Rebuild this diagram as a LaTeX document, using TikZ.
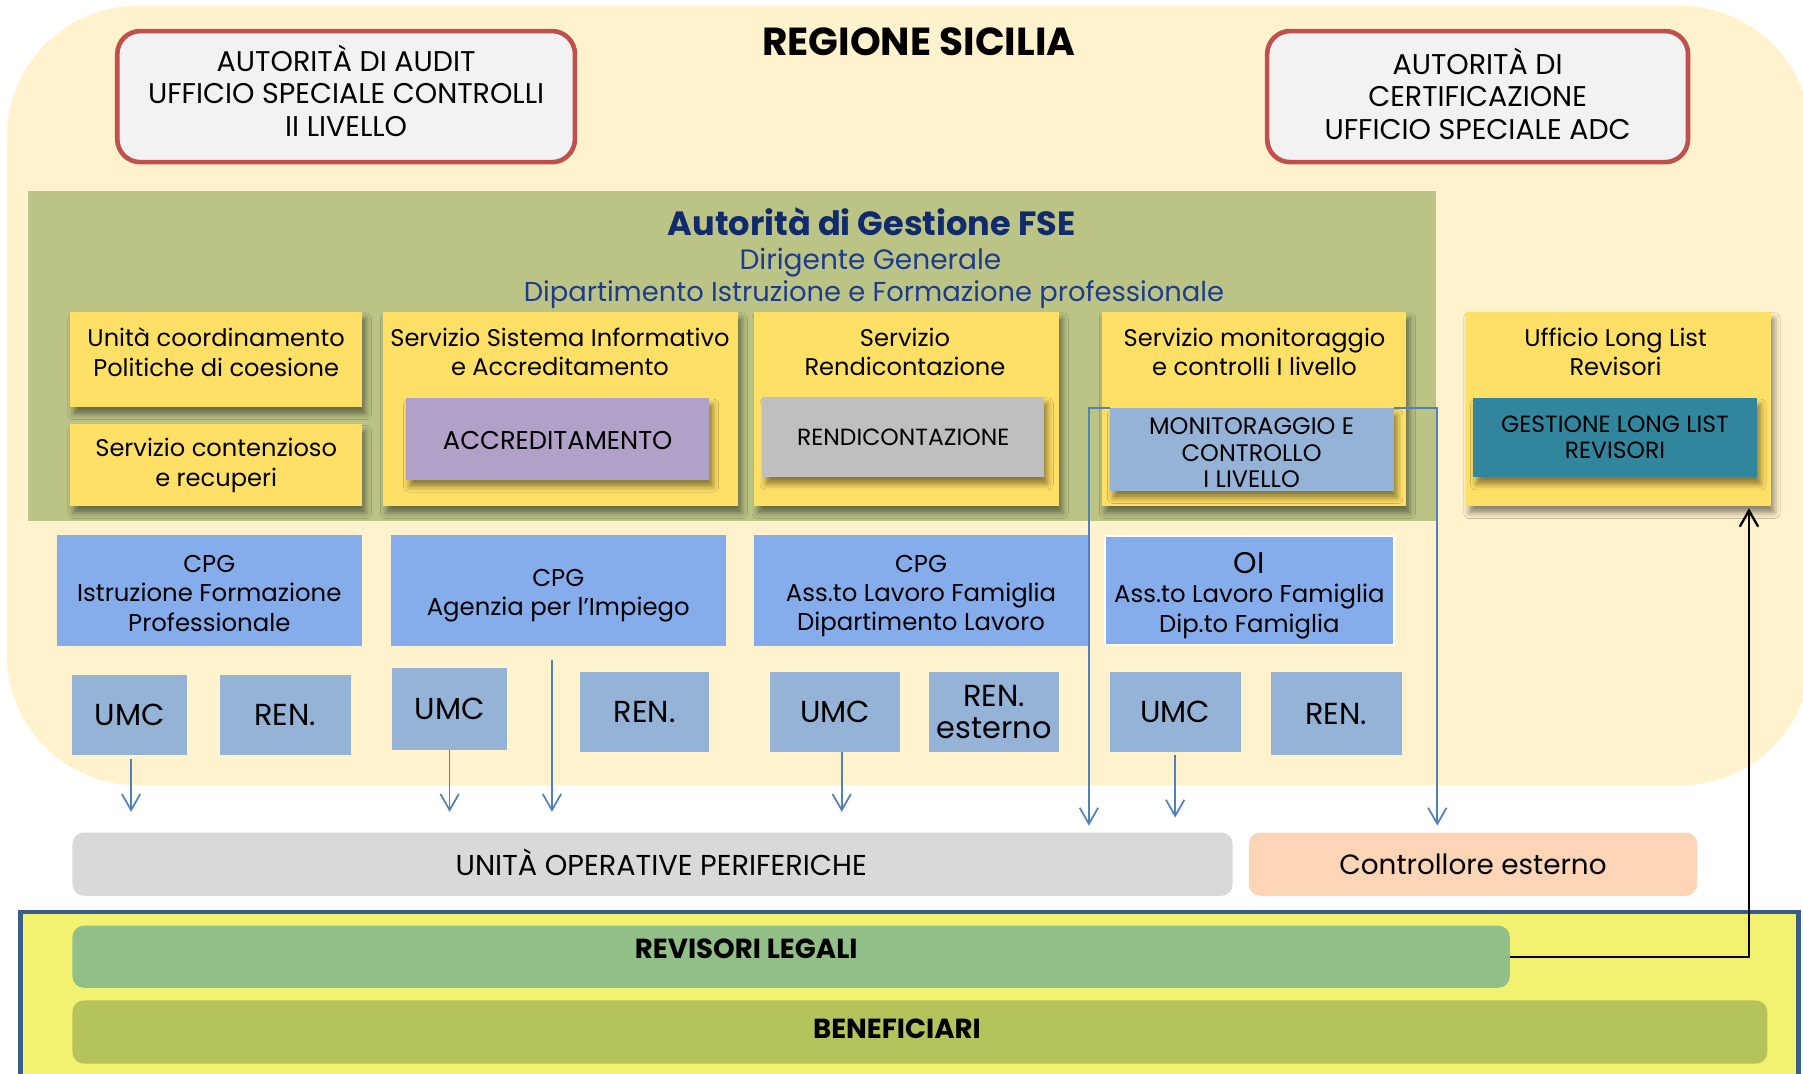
\documentclass[tikz,border=0pt]{standalone}
\usepackage{fontspec}
\setmainfont{Poppins}
\usetikzlibrary{shadows,shadows.blur,arrows.meta}
\definecolor{cream}{HTML}{FFF2CC}
\definecolor{olive}{HTML}{BBC485}
\definecolor{yel}{HTML}{FFE066}
\definecolor{purp}{HTML}{B1A0C7}
\definecolor{gry}{HTML}{BFBFBF}
\definecolor{steel}{HTML}{95B3D7}
\definecolor{tealb}{HTML}{31859C}
\definecolor{cpgb}{HTML}{85ACEB}
\definecolor{navy}{HTML}{102A6E}
\definecolor{subblue}{HTML}{1F3C8C}
\definecolor{byel}{HTML}{F2F270}
\definecolor{bborder}{HTML}{385D8A}
\definecolor{revg}{HTML}{92BE87}
\definecolor{benf}{HTML}{B5C45A}
\definecolor{uopg}{HTML}{D9D9D9}
\definecolor{peach}{HTML}{FBD5B5}
\definecolor{arrb}{HTML}{4F81BD}
\definecolor{redb}{HTML}{C0504D}
\definecolor{boxg}{HTML}{F2F2F2}
\begin{document}
\begin{tikzpicture}[x=0.5pt,y=-0.5pt,
  wh/.style 2 args={minimum width=#1*0.5pt, minimum height=#2*0.5pt},
  fbox/.style={inner sep=0pt, outer sep=0pt, align=center, text=black},
  shad/.style={blur shadow={shadow xshift=1.5pt, shadow yshift=-3pt, shadow blur radius=2.5pt, shadow opacity=45}},
  authbox/.style={fbox, fill=boxg, draw=redb, line width=2pt, rounded corners=10pt},
  authtext/.style={inner sep=0pt, align=center, font=\fontsize{12.4}{14.25}\selectfont},
  ybox/.style={fbox, fill=yel, shad},
  ytext/.style={inner sep=0pt, align=center, font=\fontsize{10.5}{13}\selectfont},
  inbox/.style={fbox, shad},
  cpg/.style={fbox, fill=cpgb},
  cpgtext/.style={inner sep=0pt, align=center, font=\fontsize{10.6}{12.75}\selectfont},
  small/.style={fbox, fill=steel, font=\fontsize{13.2}{14}\selectfont},
  bar/.style={fbox, rounded corners=5pt},
  btext/.style={inner sep=0pt, font=\bfseries\fontsize{12}{14}\selectfont},
  arr/.style={draw=arrb, line width=0.75pt, -{Straight Barb[length=7pt,width=8pt,line width=0.75pt]}},
  karr/.style={draw=black, line width=1pt, -{Straight Barb[length=7pt,width=8pt,line width=1pt]}}
]
\useasboundingbox (0,0) rectangle (1568,934);
\fill[white] (0,0) rectangle (1568,934);
% region
\node[fbox, fill=cream, rounded corners=57pt, wh={1569}{678}] (region) at (790.5,344) {};
\node[font=\bfseries\fontsize{17}{20}\selectfont, inner sep=0pt] (title) at (799,36) {REGIONE SICILIA};
\node[authbox, wh={398}{114}] (audit) at (301,84) {};
\node[authtext] (auditt) at (301,79) {AUTORITÀ DI AUDIT\\UFFICIO SPECIALE CONTROLLI\\II LIVELLO};
\node[authbox, wh={366}{114}] (cert) at (1285,84) {};
\node[authtext] (certt) at (1285,81.5) {AUTORITÀ DI\\CERTIFICAZIONE\\UFFICIO SPECIALE ADC};
% gestione
\node[fbox, fill=olive, wh={1225}{287}] (ag) at (636.5,309.5) {};
\node[inner sep=0pt, text=navy, font=\bfseries\fontsize{14.6}{17}\selectfont] (agt) at (758,193) {Autorità di Gestione FSE};
\node[inner sep=0pt, text=subblue, font=\fontsize{12.2}{14}\selectfont] (dg) at (757,228) {Dirigente Generale};
\node[inner sep=0pt, text=subblue, font=\fontsize{11.9}{14}\selectfont] (dip) at (760,256) {Dipartimento Istruzione e Formazione professionale};
% yellow boxes
\node[ybox, wh={254}{83}] (uc) at (188,312.5) {};
\node[ytext] (uct) at (188,306) {Unità coordinamento\\Politiche di coesione};
\node[ybox, ytext, wh={254}{71}] (sc) at (188,404.5) {Servizio contenzioso\\e recuperi};
\node[ybox, wh={309}{169}] (ssi) at (487.5,355.5) {};
\node[ytext] (ssit) at (487,306) {Servizio Sistema Informativo\\e Accreditamento};
\node[inbox, fill=purp, font=\fontsize{11.2}{13}\selectfont, wh={264}{71}] (accr) at (485,381.5) {};
\node[inner sep=0pt, font=\fontsize{11.2}{13}\selectfont] (accrt) at (485,383) {ACCREDITAMENTO};
\node[ybox, wh={265}{169}] (rend) at (788.5,355.5) {};
\node[ytext] (rendt) at (787,306) {Servizio\\Rendicontazione};
\node[inbox, fill=gry, font=\fontsize{10.2}{12}\selectfont, wh={245}{70}] (rendi) at (785.5,380) {RENDICONTAZIONE};
\node[ybox, wh={265}{169}] (smc) at (1090.5,355.5) {};
\node[ytext] (smct) at (1091,306) {Servizio monitoraggio\\e controlli I livello};
\node[inbox, fill=steel, wh={247}{72}] (mon) at (1088.5,391) {};
\node[inner sep=0pt, align=center, font=\fontsize{10.4}{11.5}\selectfont] (mont) at (1088.5,394) {MONITORAGGIO E\\CONTROLLO\\I LIVELLO};
\node[ybox, wh={265}{169}] (ll) at (1407.5,355.5) {};
\node[ytext] (llt) at (1405,306) {Ufficio Long List\\Revisori};
\node[inbox, fill=tealb, font=\fontsize{10.2}{11.5}\selectfont, wh={247}{69}] (gll) at (1404.5,380.5) {GESTIONE LONG LIST\\REVISORI};
% CPG
\node[cpg, wh={265}{97}] (c1) at (182.5,513.5) {};
\node[cpgtext] (c1t) at (182,516) {CPG\\Istruzione Formazione\\Professionale};
\node[cpg, wh={291}{97}] (c2) at (485.5,513.5) {};
\node[cpgtext] (c2t) at (485.5,518) {CPG\\Agenzia per l’Impiego};
\node[cpg, wh={290}{97}] (c3) at (801,513.5) {};
\node[cpgtext] (c3t) at (801,518.5) {CPG\\Ass.to Lavoro Famiglia\\Dipartimento Lavoro};
\node[cpg, draw=white, line width=1pt, wh={251}{95}] (oi) at (1086.5,513.5) {};
\node[cpgtext] (oit) at (1086.5,518) {{\fontsize{13}{14}\selectfont OI}\\Ass.to Lavoro Famiglia\\Dip.to Famiglia};
% UMC / REN
\node[small, wh={100}{70}] (u1) at (113,622) {UMC};
\node[small, wh={114}{70}] (r1) at (248,622) {REN.};
\node[small, wh={100}{71}] (u2) at (391,616.5) {UMC};
\node[small, wh={113}{70}] (r2) at (560.5,619) {REN.};
\node[small, wh={113}{70}] (u3) at (726.5,619) {UMC};
\node[small, wh={113}{70}] (r3) at (864.5,619) {REN.\\esterno};
\node[small, wh={114}{70}] (u4) at (1022,619) {UMC};
\node[small, wh={114}{73}] (r4) at (1162,620.5) {REN.};
% bottom
\node[bar, fill=uopg, font=\fontsize{12.5}{14}\selectfont, wh={1009}{55}] (uop) at (567.5,751.5) {};
\node[inner sep=0pt, font=\fontsize{12.5}{14}\selectfont] (uopt) at (575,750) {UNITÀ OPERATIVE PERIFERICHE};
\node[bar, fill=peach, font=\fontsize{12.1}{14}\selectfont, wh={390}{55}] (ce) at (1281,751.5) {Controllore esterno};
\node[fbox, fill=byel, draw=bborder, line width=2pt, wh={1546}{167}] (bott) at (791,876.5) {};
\node[bar, fill=revg, wh={1250}{54}] (rev) at (688,832) {};
\node[btext] (revt) at (649,825) {REVISORI LEGALI};
\node[bar, fill=benf, wh={1474}{55}] (ben) at (800,897.5) {};
\node[btext] (bent) at (780,895) {BENEFICIARI};
% arrows
\coordinate (ea) at (114,706);
\coordinate (eb) at (391,706);
\coordinate (sc1) at (480,574);
\coordinate (ec) at (480,706);
\coordinate (ed) at (732,706);
\coordinate (ee) at (947,718);
\coordinate (ef) at (1022,711);
\coordinate (eg) at (1250,718);
\coordinate (eh) at (1521,442);
\draw[arr] (u1.south -| ea) ++(0,3) -- (ea);
\draw[arr] (u2.south) -- (eb);
\draw[arr] (sc1) -- (ec);
\draw[arr] (u3.south -| ed) -- (ed);
\draw[arr] (mon.north west) -| (ee);
\draw[arr] (u4.south) ++(0,3) -- (ef);
\draw[arr] (mon.north east) -| (eg);
\draw[karr] (rev.east) -| (eh);
\end{tikzpicture}
\end{document}
